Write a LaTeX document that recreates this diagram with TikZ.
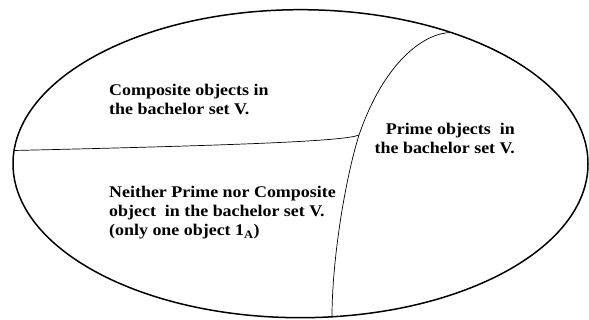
\documentclass[tikz,border=0pt]{standalone}
\usepackage{fontspec}
\setmainfont[FakeStretch=1.1]{Liberation Serif}
\begin{document}
\begin{tikzpicture}[x=1pt,y=-1pt,
  lbl/.style={inner sep=0pt, align=left, font=\fontsize{16.3}{19}\selectfont\bfseries},
  rim/.style={line width=1.5pt},
  part/.style={line width=0.7pt}]
\useasboundingbox (0,0) rectangle (589,320);
\draw[rim] (300.5,163.7) ellipse [x radius=287.5, y radius=154];
\coordinate (L) at (14,150.5);
\coordinate (J) at (359,135);
\coordinate (T) at (451,32.5);
\coordinate (B) at (332,317);
\draw[part] (L) .. controls (250,145) and (345,141) .. (J);
\draw[part] (T) .. controls (425,33) and (385,60) .. (J)
            .. controls (345,180) and (332,260) .. (B);
\node[lbl, anchor=base west] (comp) at (109,115) {Composite objects in\\the bachelor set V.};
\node[lbl, anchor=base west] (neither) at (109,236) {Neither Prime nor Composite\\object~ in the bachelor set V.\\(only one object 1\textsubscript{A})};
\node[lbl, anchor=base east, align=right] (prime) at (515,154) {Prime objects~ in\\the bachelor set V.};
\end{tikzpicture}
\end{document}
